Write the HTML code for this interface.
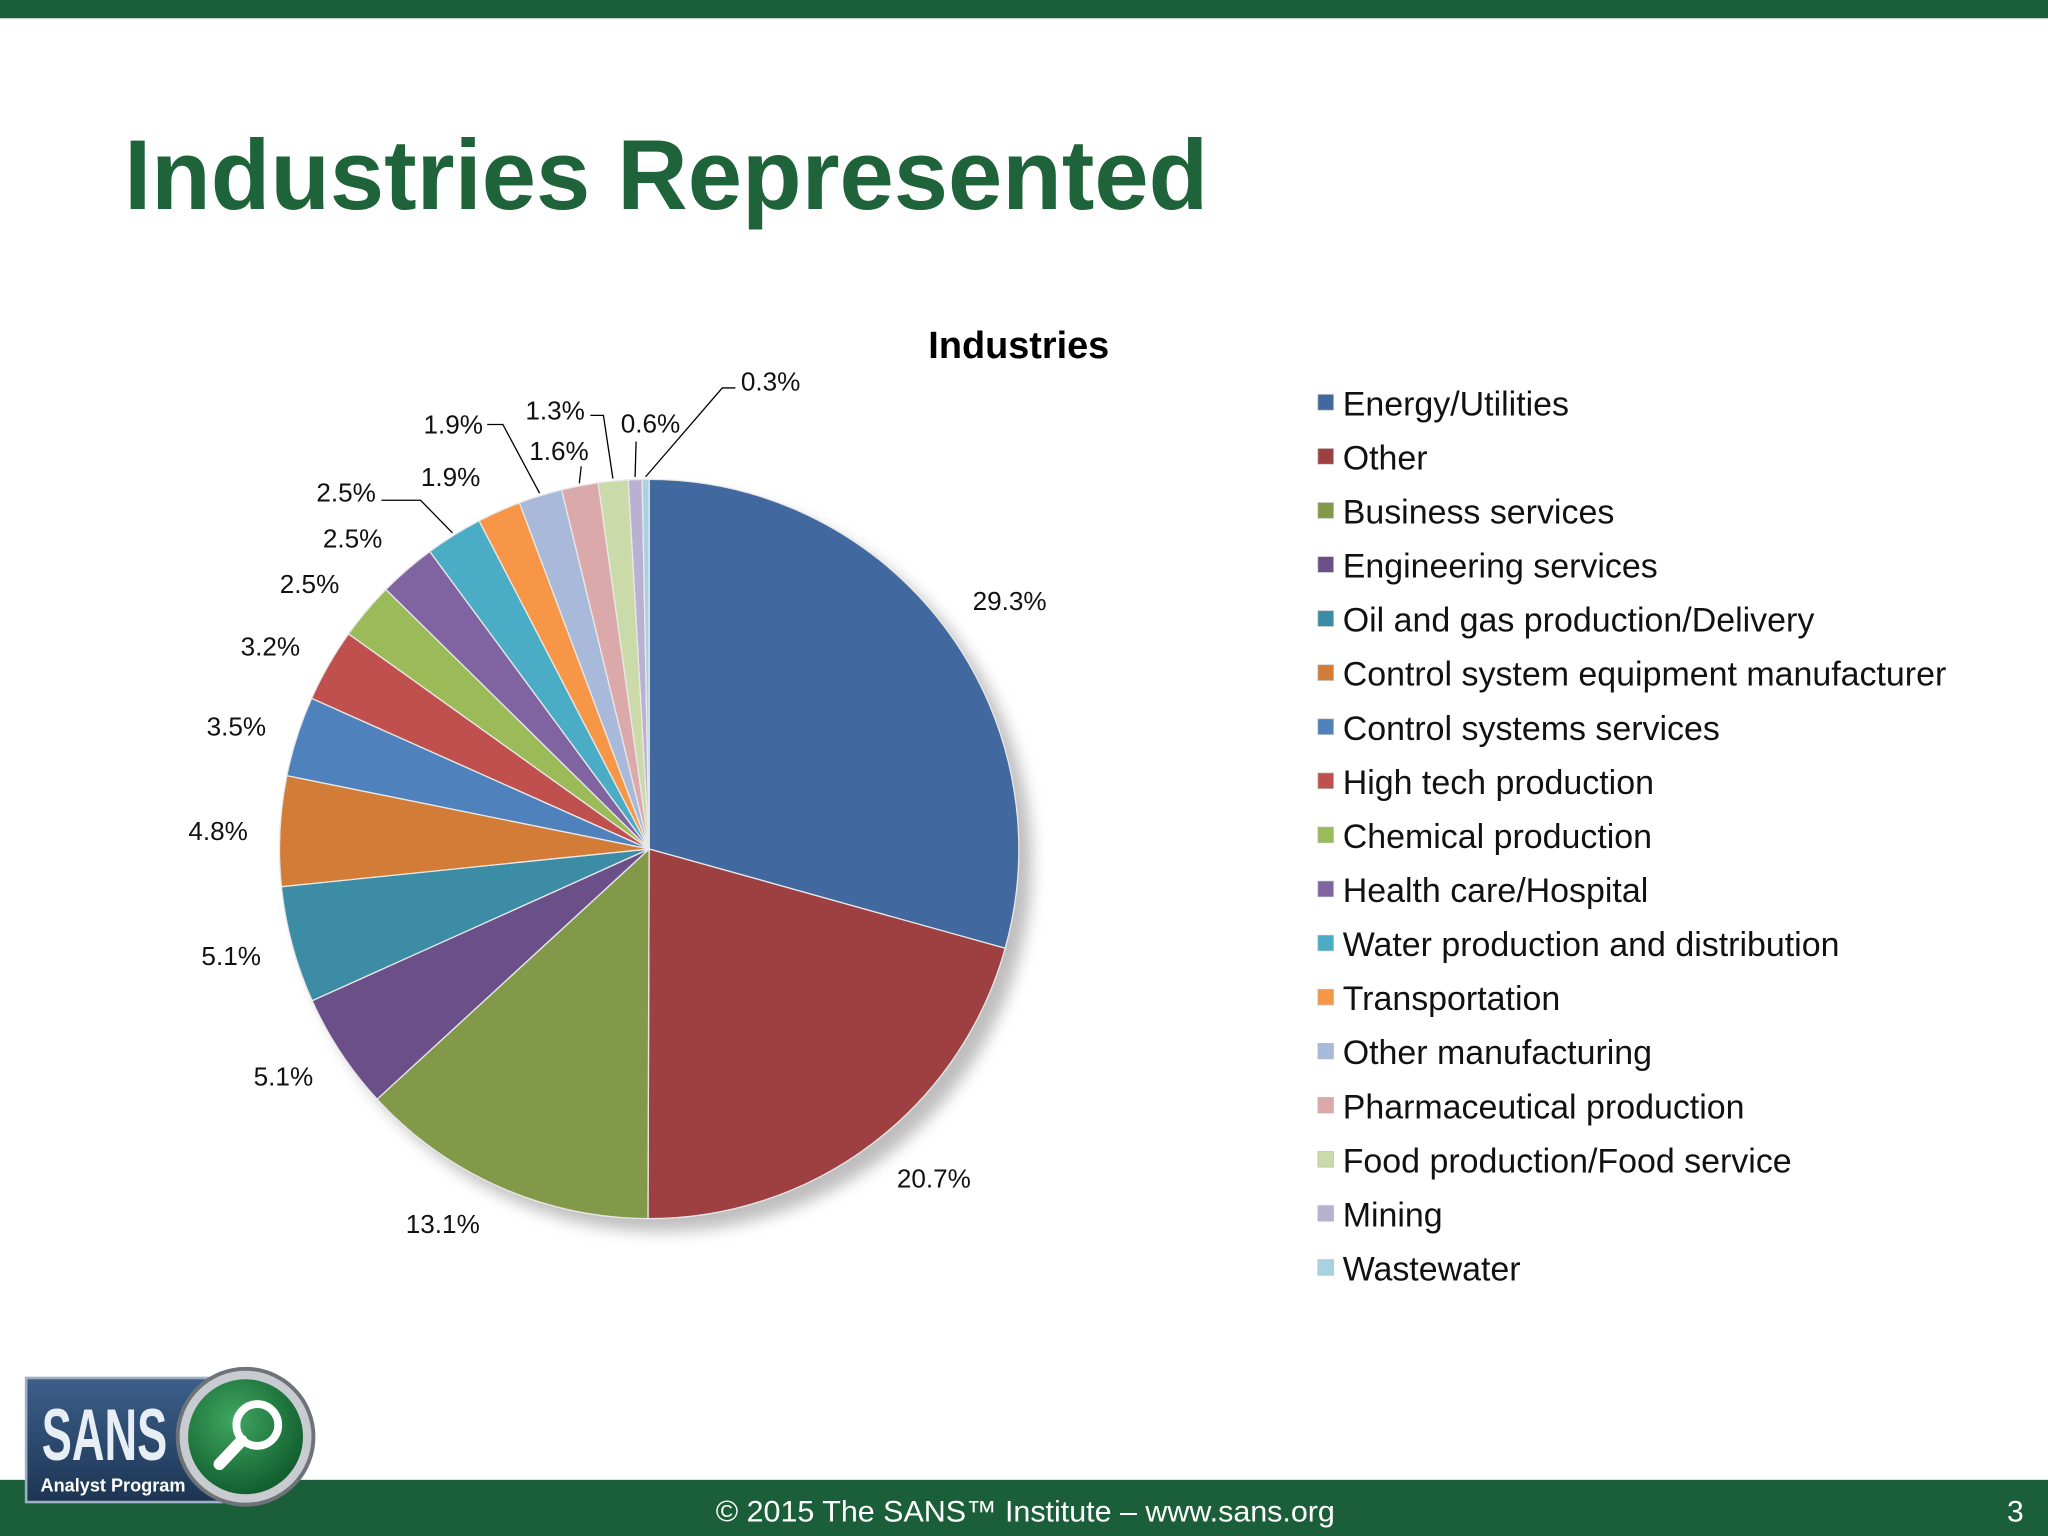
<!DOCTYPE html>
<html><head><meta charset="utf-8"><style>
html,body{margin:0;padding:0;background:#fff;}
svg{display:block;}
text{font-family:"Liberation Sans",Arial,sans-serif;}
</style></head><body>
<svg id="slide" width="2048" height="1536" viewBox="0 0 1568 1176" xmlns="http://www.w3.org/2000/svg">
<defs>
<filter id="sh" x="-20%" y="-20%" width="150%" height="150%"><feGaussianBlur stdDeviation="6"/></filter>
<linearGradient id="lg" x1="0" y1="0" x2="0" y2="1"><stop offset="0" stop-color="#3c5f8a"/><stop offset="1" stop-color="#1d3553"/></linearGradient>
<radialGradient id="gg" cx="0.4" cy="0.35" r="0.7"><stop offset="0" stop-color="#3fa760"/><stop offset="1" stop-color="#0f5a2c"/></radialGradient>
</defs>
<rect x="0" y="0" width="1568" height="14" fill="#1b5e3a"/>
<text x="95" y="160" font-size="76" font-weight="bold" fill="#1e6339" textLength="830" lengthAdjust="spacingAndGlyphs">Industries Represented</text>
<text x="780" y="274" font-size="29" font-weight="bold" fill="#000" text-anchor="middle">Industries</text>
<g id="pie"></g>
<g id="legend"></g>
<rect x="0" y="1133" width="1568" height="43" fill="#1b5e3a"/>
<text x="785" y="1165" font-size="23" fill="#fff" text-anchor="middle" textLength="474" lengthAdjust="spacingAndGlyphs">© 2015 The SANS™ Institute – www.sans.org</text>
<text x="1543" y="1165" font-size="23" fill="#fff" text-anchor="middle">3</text>
<g>
<rect x="20" y="1055" width="150" height="95" fill="url(#lg)" stroke="#9fb0c4" stroke-width="2"/>
<text x="32" y="1118" font-family="Liberation Serif,serif" font-size="56" font-weight="bold" fill="#e8eef5" textLength="96" lengthAdjust="spacingAndGlyphs">SANS</text>
<text x="31" y="1142" font-size="14" font-weight="bold" fill="#fff" textLength="111" lengthAdjust="spacingAndGlyphs">Analyst Program</text>
<circle cx="188" cy="1100" r="52" fill="#c8ccd0" stroke="#6d7378" stroke-width="3"/>
<circle cx="188" cy="1100" r="44" fill="url(#gg)"/>
<circle cx="197" cy="1091" r="16" fill="none" stroke="#fff" stroke-width="6"/>
<line x1="185" y1="1103" x2="168" y2="1121" stroke="#fff" stroke-width="9" stroke-linecap="round"/>
</g>
</svg>
<script>
const categories=["Energy/Utilities","Other","Business services","Engineering services","Oil and gas production/Delivery","Control system equipment manufacturer","Control systems services","High tech production","Chemical production","Health care/Hospital","Water production and distribution","Transportation","Other manufacturing","Pharmaceutical production","Food production/Food service","Mining","Wastewater"];
const values=[29.3,20.7,13.1,5.1,5.1,4.8,3.5,3.2,2.5,2.5,2.5,1.9,1.9,1.6,1.3,0.6,0.3];
const valueLabels=["29.3%","20.7%","13.1%","5.1%","5.1%","4.8%","3.5%","3.2%","2.5%","2.5%","2.5%","1.9%","1.9%","1.6%","1.3%","0.6%","0.3%"];
const colors=["#41699f","#9e4041","#83994a","#6a4f89","#3d8ca6","#d27c38","#4f81bd","#c0504d","#9bbb59","#8064a2","#4bacc6","#f79646","#a9b9d9","#dba9a9","#cadaa9","#b9b1d1","#a9d1e1"];
const NS="http://www.w3.org/2000/svg";
const cx=497,cy=650,R=283;
// label layout (placement only)
const labelXY=[[773,460],[715,902],[339,937],[217,824],[177,732],[167,636],[181,556],[207,495],[237,447],[270,412],[265,377],[345,365],[347,325],[428,345],[425,314],[498,324],[590,292]];
const leaders={10:[[322,383],[292,383]],12:[[385,325],[373,325]],13:[[445,357]],14:[[462,318],[452,318]],15:[[487,338]],16:[[553,297],[563,297]]};
const total=values.reduce((a,b)=>a+b,0);
function ang(v){return v/total*2*Math.PI;}
function pt(a,r){return [cx+r*Math.sin(a),cy-r*Math.cos(a)];}
function mk(tag,attrs,parent){const e=document.createElementNS(NS,tag);for(const k in attrs)e.setAttribute(k,attrs[k]);parent.appendChild(e);return e;}
const pie=document.getElementById('pie');
const shadow=mk('circle',{cx:cx+10,cy:cy+10,r:R,fill:'#888',opacity:0.55,filter:'url(#sh)'},pie);


let acc=0;
values.forEach((v,i)=>{
  const a0=ang(acc),a1=ang(acc+v);acc+=v;
  const p0=pt(a0,R),p1=pt(a1,R);
  const large=(a1-a0)>Math.PI?1:0;
  const s=mk('path',{d:`M${cx},${cy} L${p0[0]},${p0[1]} A${R},${R} 0 ${large} 1 ${p1[0]},${p1[1]} Z`,fill:colors[i],stroke:'#e8e8e8','stroke-width':1},pie);
  
  
  const am=(a0+a1)/2;
  if(leaders[i]){
    const e=pt(am,R+2);
    const pts=[e].concat(leaders[i]).map(p=>p.join(',')).join(' ');
    const ln=mk('polyline',{points:pts,fill:'none',stroke:'#000','stroke-width':1},pie);
    
    
  }
  const t=mk('text',{x:labelXY[i][0],y:labelXY[i][1]+7,'font-size':20,'text-anchor':'middle',fill:'#111'},pie);
  t.textContent=valueLabels[i];
  
  
});
const lg=document.getElementById('legend');
categories.forEach((c,i)=>{
  const y=309+i*41.4;
  const g=mk('g',{},lg);
  
  
  mk('rect',{x:1009,y:y-7,width:12,height:12,fill:colors[i],stroke:'#bbb','stroke-width':0.5},g);
  const t=mk('text',{x:1028,y:y+9,'font-size':26,fill:'#111'},g);
  t.textContent=c;
});
</script>
</body></html>
